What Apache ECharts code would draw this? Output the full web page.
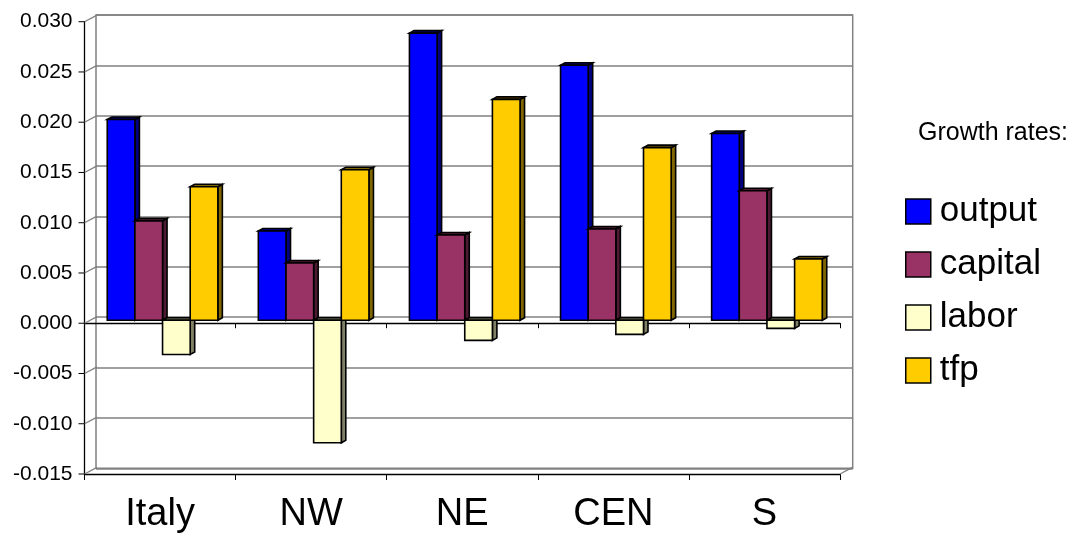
<!DOCTYPE html>
<html>
<head>
<meta charset="utf-8">
<script src="https://cdn.jsdelivr.net/npm/echarts@6/dist/echarts.min.js"></script>
<style>html,body{margin:0;padding:0;background:#fff}#c{width:1078px;height:540px}</style>
</head>
<body>
<div id="c"></div>
<script>
const categories = ['Italy', 'NW', 'NE', 'CEN', 'S'];
const output  = [0.0200, 0.0089, 0.0286, 0.0254, 0.0186];
const capital = [0.0099, 0.0057, 0.0085, 0.0091, 0.0129];
const labor   = [-0.0034, -0.0122, -0.0020, -0.0014, -0.0008];
const tfp     = [0.0133, 0.0150, 0.0220, 0.0172, 0.0061];
const yTicks  = [-0.015, -0.010, -0.005, 0.000, 0.005, 0.010, 0.015, 0.020, 0.025, 0.030];
const legendTitle = 'Growth rates:';

const FONT = 'Liberation Sans, Arial, sans-serif';
const Y_MIN = -0.015, Y_MAX = 0.030, Y_STEP = 0.005;
const BAR_FRAC = 0.183;
const DX = 4.5, DY = 2.5;      // bar depth offset
const WDX = 12.5, WDY = 6.6;   // wall depth offset

const seriesDefs = [
  {name: 'output',  data: output,  front: '#0000FF', side: '#000080', top: '#000080'},
  {name: 'capital', data: capital, front: '#993366', side: '#4d1a33', top: '#4d1a33'},
  {name: 'labor',   data: labor,   front: '#FFFFCC', side: '#808066', top: '#808066'},
  {name: 'tfp',     data: tfp,     front: '#FFCC00', side: '#806600', top: '#806600'}
];

function makeRender(si, def) {
  return function (params, api) {
    const ci = api.value(0), v = api.value(1);
    const p0 = api.coord([ci, 0]);
    const p1 = api.coord([ci, v]);
    const bw = api.size([1, 0])[0] * BAR_FRAC;
    const x0 = p0[0] - 2 * bw + si * bw;
    const x1 = x0 + bw;
    const yT = Math.min(p0[1], p1[1]);
    const yB = Math.max(p0[1], p1[1]);
    const st = {stroke: '#000', lineWidth: 1.6};
    return {
      type: 'group',
      children: [
        {type: 'polygon', shape: {points: [[x1, yT], [x1 + DX, yT - DY], [x1 + DX, yB - DY], [x1, yB]]},
          style: Object.assign({fill: def.side}, st)},
        {type: 'polygon', shape: {points: [[x0, yT], [x0 + DX, yT - DY], [x1 + DX, yT - DY], [x1, yT]]},
          style: Object.assign({fill: def.top}, st)},
        {type: 'rect', shape: {x: x0, y: yT, width: bw, height: yB - yT},
          style: Object.assign({fill: def.front}, st)}
      ]
    };
  };
}

const barSeries = seriesDefs.map((d, si) => ({
  name: d.name,
  type: 'custom',
  coordinateSystem: 'cartesian2d',
  xAxisIndex: 3, yAxisIndex: 2,
  z: 3,
  itemStyle: {color: d.front, borderColor: '#000', borderWidth: 1.5},
  encode: {x: 0, y: 1},
  data: categories.map((c, i) => [i, d.data[i]]),
  renderItem: makeRender(si, d)
}));

const wallSeries = {
  name: 'wall',
  type: 'custom',
  coordinateSystem: 'cartesian2d',
  xAxisIndex: 1, yAxisIndex: 1,
  z: 1,
  silent: true,
  encode: {x: 0, y: 1},
  data: yTicks.map(v => [0, v]),
  renderItem: function (params, api) {
    const v = api.value(1);
    const p = api.coord([0, v]);
    const cw = api.size([1, 0])[0];
    const xl = p[0] - cw / 2;
    const children = [
      {type: 'line', shape: {x1: xl, y1: p[1], x2: xl + WDX, y2: p[1] - WDY}, style: {stroke: '#808080', lineWidth: 1.3}},
      {type: 'line', shape: {x1: xl, y1: p[1], x2: xl - 6, y2: p[1]}, style: {stroke: '#000', lineWidth: 1}}
    ];
    if (Math.abs(v - Y_MIN) < 1e-9) {
      const pr = api.coord([categories.length - 1, v]);
      const xr = pr[0] + cw / 2;
      children.push({type: 'line', shape: {x1: xr, y1: p[1], x2: xr + WDX, y2: p[1] - WDY}, style: {stroke: '#808080', lineWidth: 1.3}});
    }
    return {type: 'group', children: children};
  }
};

const chart = echarts.init(document.getElementById('c'), null, {renderer: 'canvas'});
chart.setOption({
  animation: false,
  backgroundColor: '#fff',
  title: {
    text: legendTitle, left: 913, top: 116,
    textStyle: {fontFamily: FONT, fontSize: 25, fontWeight: 'normal', color: '#000'}
  },
  legend: {
    data: seriesDefs.map(d => ({name: d.name, itemStyle: {color: d.front, borderColor: '#000', borderWidth: 1.5}})),
    orient: 'vertical', left: 905, top: 194, padding: 0,
    itemWidth: 25, itemHeight: 25, itemGap: 18, icon: 'rect',
    textStyle: {fontFamily: FONT, fontSize: 35, lineHeight: 33, color: '#000', padding: [0, 0, 0, 4]}
  },
  grid: [
    {left: 96, top: 15, width: 756.7, height: 453.3, show: true, borderColor: '#808080', borderWidth: 1.5, backgroundColor: 'transparent'},
    {left: 84.5, top: 21.7, width: 755.5, height: 452.3},
    {left: 87, top: 19.1, width: 755.5, height: 451.8}
  ],
  xAxis: [
    {type: 'category', gridIndex: 0, data: categories, show: false},
    {type: 'category', gridIndex: 1, data: categories, position: 'bottom',
      axisLine: {onZero: false, lineStyle: {color: '#000', width: 1.3}},
      axisTick: {show: true, length: 6, lineStyle: {color: '#000'}},
      axisLabel: {fontFamily: FONT, fontSize: 38, lineHeight: 38, color: '#000', margin: 22}},
    {type: 'category', gridIndex: 1, data: categories, position: 'top',
      axisLine: {onZero: true, lineStyle: {color: '#000', width: 1.3}},
      axisTick: {show: true, inside: true, length: 5, lineStyle: {color: '#000'}},
      axisLabel: {show: false}},
    {type: 'category', gridIndex: 2, data: categories, show: false}
  ],
  yAxis: [
    {type: 'value', gridIndex: 0, min: Y_MIN, max: Y_MAX, interval: Y_STEP,
      axisLine: {show: false}, axisTick: {show: false}, axisLabel: {show: false},
      splitLine: {show: true, lineStyle: {color: '#808080', width: 1.5}}},
    {type: 'value', gridIndex: 1, min: Y_MIN, max: Y_MAX, interval: Y_STEP,
      axisLine: {show: true, lineStyle: {color: '#000', width: 1.3}},
      axisTick: {show: false},
      splitLine: {show: false},
      axisLabel: {fontFamily: FONT, fontSize: 21, color: '#000', margin: 12,
        formatter: v => v.toFixed(3)}},
    {type: 'value', gridIndex: 2, min: Y_MIN, max: Y_MAX, interval: Y_STEP, show: false,
      splitLine: {show: false}}
  ],
  series: [wallSeries].concat(barSeries)
});
</script>
</body>
</html>
